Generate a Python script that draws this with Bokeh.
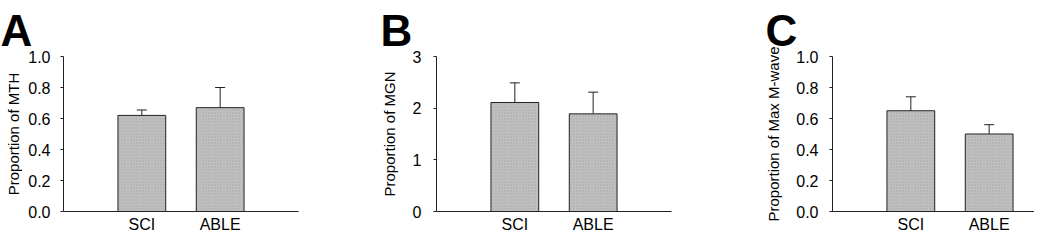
from bokeh.plotting import figure
from bokeh.layouts import row
from bokeh.models import (ColumnDataSource, Range1d, FixedTicker, Whisker, TeeHead,
                          PrintfTickFormatter)
from bokeh.embed import file_html
from bokeh.resources import INLINE

# ---- data ----
categories = ["SCI", "ABLE"]
mth_mean = [0.62, 0.67]
mth_err = [0.035, 0.13]
mgn_mean = [2.11, 1.89]
mgn_err = [0.38, 0.42]
mmax_mean = [0.65, 0.50]
mmax_err = [0.09, 0.06]

ylabels = ["Proportion of MTH", "Proportion of MGN", "Proportion of Max M-wave"]
panel_letters = ["A", "B", "C"]
y_max = [1.0, 3.0, 1.0]
y_ticks = [[0, 0.2, 0.4, 0.6, 0.8, 1.0], [0, 1, 2, 3], [0, 0.2, 0.4, 0.6, 0.8, 1.0]]
y_fmt = ["%.1f", "%d", "%.1f"]

FONT = "Liberation Sans"
INK = "#222222"
BAR_FILL = "#c4c4c4"

H = 235
TOP = 56
BOTTOM = 23
PX_PER_UNIT = 78.33

x_pos = [i + 1 for i in range(len(categories))]


def make_panel(means, errs, ylabel, letter, ymax, ticks, fmt,
               width, border_left, border_right, tick_standoff,
               label_standoff, letter_dx):
    frame_w = width - border_left - border_right
    x_end = frame_w / PX_PER_UNIT
    p = figure(width=width, height=H, output_backend="svg", toolbar_location=None,
               x_range=Range1d(0, x_end), y_range=Range1d(0, ymax),
               min_border_left=border_left, min_border_right=border_right,
               min_border_top=TOP, min_border_bottom=BOTTOM)
    p.outline_line_color = None
    p.grid.visible = False
    p.background_fill_color = "white"
    p.border_fill_color = "white"

    # panel letter as title
    p.title.text = letter
    p.title.text_font = FONT
    p.title.text_font_size = "44px"
    p.title.text_font_style = "bold"
    p.title.text_color = "black"
    p.title.align = "left"
    p.title.offset = letter_dx
    p.title.standoff = 0
    p.title.vertical_align = "top"

    src = ColumnDataSource(dict(x=x_pos, top=means,
                                upper=[m + e for m, e in zip(means, errs)]))
    p.vbar(x="x", top="top", bottom=0, width=0.61, source=src,
           fill_color=BAR_FILL, line_color=INK, line_width=1,
           hatch_pattern="diagonal_cross", hatch_color="#8c8c8c",
           hatch_scale=3, hatch_weight=0.5, hatch_alpha=0.55)
    w = Whisker(base="x", lower="top", upper="upper", source=src,
                line_color=INK, line_width=1,
                upper_head=TeeHead(size=10, line_color=INK, line_width=1),
                lower_head=None)
    p.add_layout(w)

    # y axis
    ya = p.yaxis[0]
    ya.ticker = FixedTicker(ticks=ticks)
    ya.formatter = PrintfTickFormatter(format=fmt)
    ya.minor_tick_line_color = None
    ya.major_tick_out = 3
    ya.major_tick_in = 0
    ya.axis_line_color = INK
    ya.major_tick_line_color = INK
    ya.major_label_text_font = FONT
    ya.major_label_text_font_size = "16px"
    ya.major_label_text_color = "black"
    ya.major_label_standoff = tick_standoff
    ya.axis_label = ylabel
    ya.axis_label_text_font = FONT
    ya.axis_label_text_font_size = "15px"
    ya.axis_label_text_font_style = "normal"
    ya.axis_label_text_color = "black"
    ya.axis_label_standoff = label_standoff

    # x axis
    xa = p.xaxis[0]
    xa.ticker = FixedTicker(ticks=x_pos)
    xa.major_label_overrides = {x: c for x, c in zip(x_pos, categories)}
    xa.minor_tick_line_color = None
    xa.major_tick_out = 0
    xa.major_tick_in = 0
    xa.axis_line_color = INK
    xa.major_label_text_font = FONT
    xa.major_label_text_font_size = "16px"
    xa.major_label_text_color = "black"
    xa.major_label_standoff = 4
    return p


pA = make_panel(mth_mean, mth_err, ylabels[0], panel_letters[0], y_max[0], y_ticks[0],
                y_fmt[0], 350, 63, 52, 10, 3, -63)
pB = make_panel(mgn_mean, mgn_err, ylabels[1], panel_letters[1], y_max[1], y_ticks[1],
                y_fmt[1], 350, 86, 29, 12, 12, -56)
pC = make_panel(mmax_mean, mmax_err, ylabels[2], panel_letters[2], y_max[2], y_ticks[2],
                y_fmt[2], 334, 132, 0, 11, 11, -67)

layout = row(pA, pB, pC)
open("out.html", "w").write(file_html(layout, INLINE))
